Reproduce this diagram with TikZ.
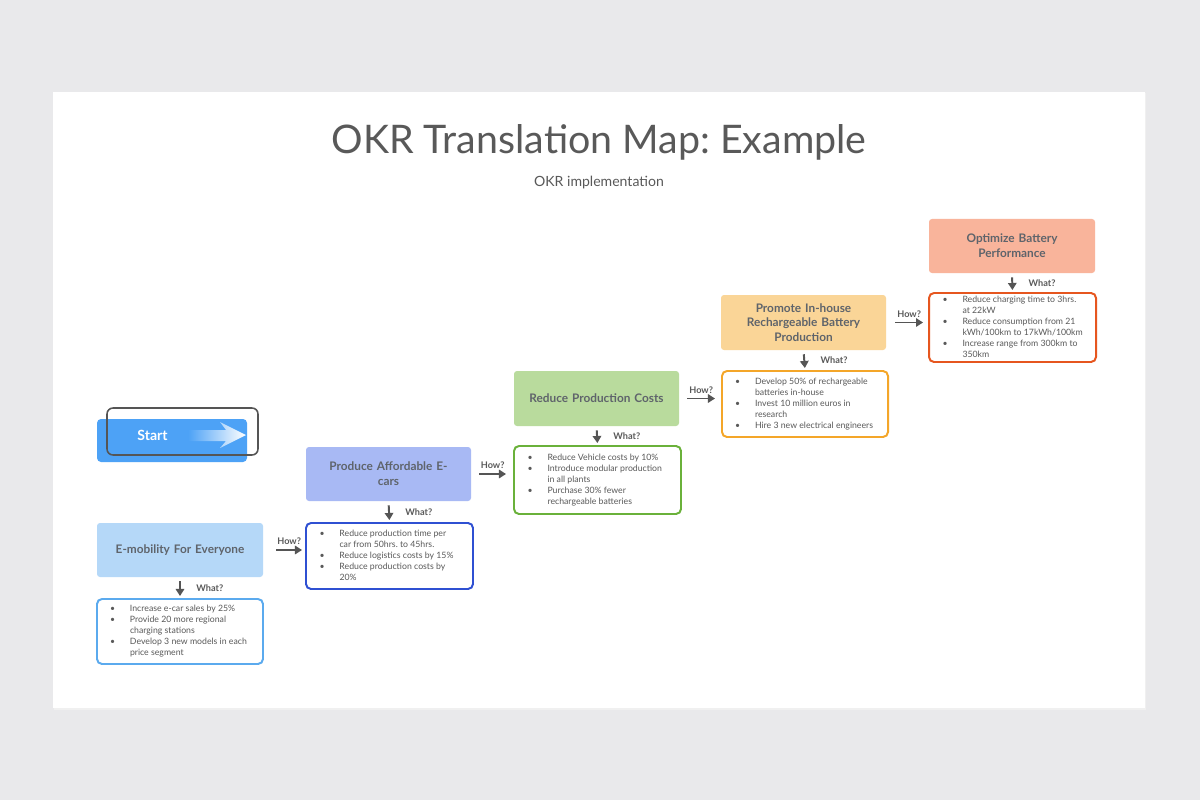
\documentclass[tikz,border=0pt]{standalone}
\usepackage{fontspec}
\setmainfont{Lato}
\usepackage{array}
\usetikzlibrary{arrows.meta,calc}
\frenchspacing
\newlength\pxu \setlength\pxu{0.025cm}
\definecolor{bgc}{HTML}{E9E9EB}
\definecolor{txt}{HTML}{595959}
\definecolor{btxt}{HTML}{5F646B}
\definecolor{arrc}{HTML}{555555}
\definecolor{startc}{HTML}{4DA2F6}
\definecolor{f1}{HTML}{B5D8F8}\definecolor{d1}{HTML}{5BAAEE}
\definecolor{f2}{HTML}{A8B9F4}\definecolor{d2}{HTML}{2F50D2}
\definecolor{f3}{HTML}{B9DB9D}\definecolor{d3}{HTML}{6AB13A}
\definecolor{f4}{HTML}{FAD597}\definecolor{d4}{HTML}{F4A629}
\definecolor{f5}{HTML}{F9B49B}\definecolor{d5}{HTML}{E6561F}
\newcolumntype{T}{>{\frenchspacing\spaceskip=1.6pt\relax}l}
\newcommand\okrlist[1]{\fontsize{6.2}{7.8}\selectfont\color{txt}\begin{tabular}{@{}p{20\pxu}@{}T@{}}#1\end{tabular}}
\begin{document}
\begin{tikzpicture}[x=1\pxu,y=-1\pxu,
  goalbox/.style={rectangle,rounded corners=3\pxu,minimum width=166\pxu,minimum height=54\pxu,
    text width=150\pxu,align=center,inner sep=0pt,font=\fontsize{8.4}{10.5}\selectfont\bfseries,text=btxt},
  listbox/.style={rectangle,rounded corners=5\pxu,draw,line width=1.4pt,fill=white,minimum width=166\pxu,
    text width=140\pxu,inner xsep=12\pxu,inner ysep=0pt,align=left},
  arr/.style={draw=arrc,line width=1.4pt,-{Triangle[length=5pt,width=6pt]}},
  qlab/.style={font=\fontsize{6.5}{8}\selectfont\bfseries,text=txt,inner sep=1pt}]
\useasboundingbox (0,0) rectangle (1200,800);
\fill[bgc] (0,0) rectangle (1200,800);
\fill[black!6] (54,93) rectangle (1146,710);
\fill[white] (53,92) rectangle (1145,708);
\node[font=\fontsize{28}{32}\selectfont,text=txt] (title) at (599,142) {OKR Translation Map: Example};
\node[font=\fontsize{10}{12}\selectfont,text=txt] (sub) at (599,183) {OKR implementation};
% start button
\node[rectangle,rounded corners=4\pxu,fill=startc,minimum width=150\pxu,minimum height=43\pxu] (startbtn) at (172,440.5) {};
\shade[left color=startc,right color=white] (188,430)--(226,430)--(220,422)--(246,435)--(220,448)--(226,441)--(188,441)--cycle;
\node[font=\fontsize{10}{12}\selectfont\bfseries,text=white] (starttxt) at (152.5,435) {Start};
\node[rectangle,rounded corners=6\pxu,draw=arrc,line width=1.1pt,minimum width=151\pxu,minimum height=47\pxu] (startframe) at (182.5,431.5) {};
% goals
\node[goalbox,fill=f1] (g1) at (180,550) {E-mobility For Everyone};
\node[goalbox,fill=f2,minimum width=165\pxu] (g2) at (388.5,474) {Produce Affordable E-\\cars};
\node[goalbox,fill=f3,minimum width=165\pxu,minimum height=55\pxu] (g3) at (596.5,398.5) {Reduce Production Costs};
\node[goalbox,fill=f4,minimum width=165\pxu,minimum height=55\pxu] (g4) at (803.5,322.5) {Promote In-house\\Rechargeable Battery\\Production};
\node[goalbox,fill=f5] (g5) at (1012,246) {Optimize Battery\\Performance};
% lists
\node[listbox,draw=d1,minimum height=65\pxu] (l1) at (180,631.5) {\okrlist{
\textbullet & Increase e-car sales by 25\% \\
\textbullet & Provide 20 more regional \\
 & charging stations \\
\textbullet & Develop 3 new models in each \\
 & price segment}};
\node[listbox,draw=d2,minimum width=167\pxu,minimum height=66\pxu] (l2) at (389.5,556) {\okrlist{
\textbullet & Reduce production time per \\
 & car from 50hrs. to 45hrs. \\
\textbullet & Reduce logistics costs by 15\% \\
\textbullet & Reduce production costs by \\
 & 20\%}};
\node[listbox,draw=d3,minimum width=167\pxu,minimum height=68\pxu] (l3) at (597.5,480) {\okrlist{
\textbullet & Reduce Vehicle costs by 10\% \\
\textbullet & Introduce modular production \\
 & in all plants \\
\textbullet & Purchase 30\% fewer \\
 & rechargeable batteries}};
\node[listbox,draw=d4,minimum height=66\pxu] (l4) at (805,404) {\okrlist{
\textbullet & Develop 50\% of rechargeable \\
 & batteries in-house \\
\textbullet & Invest 10 million euros in \\
 & research \\
\textbullet & Hire 3 new electrical engineers}};
\node[listbox,draw=d5,minimum width=167\pxu,minimum height=69\pxu] (l5) at (1012.5,327.5) {\okrlist{
\textbullet & Reduce charging time to 3hrs. \\
 & at 22kW \\
\textbullet & Reduce consumption from 21 \\
 & kWh/100km to 17kWh/100km \\
\textbullet & Increase range from 300km to \\
 & 350km}};
% what arrows
\foreach \i in {1,...,5}{
  \draw[arr,shorten <=4\pxu,shorten >=2\pxu] (g\i.south) -- (l\i.north) node[midway,right=14\pxu,qlab] (what\i) {What?};
}
% how arrows
\draw[arr] ([xshift=13\pxu]g1.east) -- ([xshift=-3\pxu]l2.west |- g1.east) node[midway,above=3\pxu,qlab] (how1) {How?};
\draw[arr] ([xshift=8\pxu]g2.east) -- ([xshift=-7\pxu]l3.west |- g2.east) node[midway,above=3\pxu,qlab] (how2) {How?};
\draw[arr] ([xshift=8\pxu]g3.east) -- ([xshift=-6\pxu]l4.west |- g3.east) node[midway,above=3\pxu,qlab] (how3) {How?};
\draw[arr] ([xshift=9\pxu]g4.east) -- ([xshift=-5\pxu]l5.west |- g4.east) node[midway,above=3\pxu,qlab] (how4) {How?};
\end{tikzpicture}
\end{document}
